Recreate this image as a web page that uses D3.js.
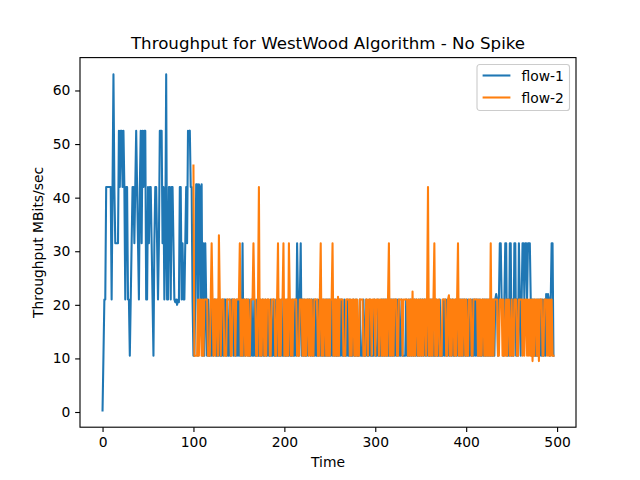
<!DOCTYPE html>
<html>
<head>
<meta charset="utf-8">
<script src="https://cdn.jsdelivr.net/npm/d3@7"></script>
<style>
  body { margin: 0; background: #fff; }
  text { font-family: "DejaVu Sans", sans-serif; }
</style>
</head>
<body>
<svg id="chart" width="640" height="480"></svg>
<script>
"use strict";

var title = "Throughput for WestWood Algorithm - No Spike";
var xLabel = "Time";
var yLabel = "Throughput MBits/sec";
var seriesNames = ["flow-1", "flow-2"];
var xTicks = [0, 100, 200, 300, 400, 500];
var yTicks = [0, 10, 20, 30, 40, 50, 60];
var timeStep = 1;
var flow1Start = 0;
var flow2Start = 100;

// flow-1, one value per second from t=0 (10 per row)
var flow1 = [
	0.3, 10.5, 21, 21, 42, 42, 42, 42, 42, 42,
	21, 42, 63, 42, 31.5, 31.5, 31.5, 31.5, 52.5, 42,
	52.5, 52.5, 42, 52.5, 42, 21, 42, 42, 21, 21,
	10.5, 21, 31.5, 42, 42, 31.5, 42, 52.5, 42, 31.5,
	21, 42, 52.5, 31.5, 52.5, 42, 52.5, 52.5, 21, 21,
	42, 31.5, 42, 42, 31.5, 21, 10.5, 31.5, 42, 42,
	31.5, 21, 31.5, 52.5, 52.5, 52.5, 31.5, 42, 21, 31.5,
	63, 21, 21, 42, 42, 21, 42, 42, 31.5, 21,
	20.5, 21, 20, 21, 20.5, 42, 42, 21, 31.5, 21,
	21, 31.5, 42, 31.5, 52.5, 52, 52.5, 42, 42, 21,
	10.5,
	10.5, 21, 42.5, 42.5, 10.5, 42.5, 42, 21, 42.5, 10.5,
	31.5, 10.5, 31.5, 21, 10.5, 21, 10.5, 10.5, 21, 10.5,
	21, 10.5, 21, 21, 10.5, 10.5, 21, 10.5, 21, 10.5,
	10.5, 21, 10.5, 21, 21, 10.5, 21, 10.5, 10.5, 21,
	10.5, 21, 21, 10.5, 21, 10.5, 10.5, 21, 10.5, 21,
	10.5, 21, 10.5, 31.5, 10.5, 21, 10.5, 21, 21, 10.5,
	21, 10.5, 10.5, 21, 10.5, 10.5, 21, 10.5, 10.5, 21,
	10.5, 10.5, 21, 10.5, 10.5, 21, 10.5, 10.5, 21, 10.5,
	10.5, 21, 10.5, 10.5, 21, 10.5, 10.5, 21, 10.5, 10.5,
	21, 10.5, 10.5, 21, 10.5, 10.5, 21, 10.5, 10.5, 21,
	10.5, 10.5, 21, 10.5, 10.5, 21, 10.5, 10.5, 21, 10.5,
	10.5, 21, 10.5, 31.5, 21, 10.5, 21, 31.5, 10.5, 21,
	10.5, 21, 10.5, 10.5, 21, 10.5, 21, 21, 10.5, 21,
	10.5, 21, 10.5, 21, 10.5, 10.5, 21, 10.5, 21, 10.5,
	21, 10.5, 21, 10.5, 10.5, 21, 10.5, 21, 10.5, 21,
	10.5, 21, 10.5, 21, 10.5, 21, 10.5, 10.5, 21, 10.5,
	21, 10.5, 21, 10.5, 10.5, 21, 10.5, 10.5, 21, 10.5,
	10.5, 21, 10.5, 10.5, 10.5, 21, 10.5, 10.5, 21, 10.5,
	10.5, 10.5, 21, 10.5, 10.5, 10.5, 21, 10.5, 10.5, 21,
	10.5, 10.5, 10.5, 21, 10.5, 10.5, 10.5, 10.5, 21, 10.5,
	10.5, 10.5, 21, 10.5, 10.5, 10.5, 21, 10.5, 21, 10.5,
	21, 10.5, 21, 10.5, 10.5, 21, 10.5, 21, 10.5, 21,
	10.5, 21, 10.5, 21, 10.5, 21, 10.5, 10.5, 21, 10.5,
	10.5, 10.5, 10.5, 21, 10.5, 10.5, 21, 10.5, 21, 10.5,
	21, 10.5, 21, 10.5, 21, 10.5, 10.5, 21, 10.5, 21,
	10.5, 21, 10.5, 21, 10.5, 21, 10.5, 21, 10.5, 10.5,
	21, 10.5, 21, 10.5, 10.5, 10.5, 21, 10.5, 10.5, 10.5,
	21, 10.5, 10.5, 10.5, 21, 10.5, 21, 10.5, 21, 10.5,
	21, 10.5, 21, 10.5, 21, 10.5, 10.5, 21, 10.5, 21,
	10.5, 21, 10.5, 21, 10.5, 21, 10.5, 21, 10.5, 21,
	10.5, 21, 10.5, 10.5, 21, 10.5, 21, 10.5, 21, 10.5,
	21, 10.5, 21, 10.5, 21, 10.5, 10.5, 21, 10.5, 21,
	10.5, 21, 10.5, 21, 10.5, 21, 10.5, 21, 10.5, 21,
	10.5, 21, 22, 21, 10.5, 21, 31.5, 31.5, 21, 21,
	10.5, 21, 31.5, 31.5, 10.5, 21, 10.5, 31.5, 31.5, 10.5,
	21, 10.5, 31.5, 31.5, 10.5, 21, 10.5, 31.5, 21, 10.5,
	21, 31.5, 31.5, 21, 31.5, 31.5, 21, 31.5, 31.5, 31.5,
	21, 10.5, 21, 10.5, 21, 10.5, 10.5, 21, 10.5, 21,
	10.5, 21, 10.5, 21, 10.5, 21, 10.5, 22, 21, 22,
	21, 10.5, 21, 31.5, 31.5, 10.5
];

// flow-2, one value per second from t=100
var flow2 = [
	46,
	10.5, 10.5, 10.5, 10.5, 21, 10.5, 21, 21, 10.5, 21,
	10.5, 21, 21, 21, 21, 10.5, 10.5, 10.5, 21, 31.5,
	21, 10.5, 21, 10.5, 21, 21, 10.5, 33, 21, 10.5,
	21, 21, 21, 10.5, 10.5, 10.5, 21, 21, 21, 21,
	10.5, 10.5, 21, 21, 21, 10.5, 21, 21, 21, 21,
	31.5, 10.5, 21, 10.5, 21, 21, 10.5, 21, 10.5, 21,
	10.5, 10.5, 21, 21, 21, 31.5, 21, 21, 10.5, 10.5,
	21, 42, 10.5, 21, 10.5, 21, 21, 10.5, 21, 10.5,
	21, 21, 21, 10.5, 10.5, 21, 21, 21, 21, 10.5,
	10.5, 21, 31.5, 10.5, 21, 10.5, 21, 21, 31.5, 10.5,
	21, 10.5, 21, 10.5, 31.5, 21, 10.5, 21, 10.5, 21,
	21, 21, 21, 10.5, 10.5, 10.5, 21, 21, 21, 10.5,
	21, 10.5, 21, 10.5, 21, 21, 10.5, 21, 10.5, 21,
	10.5, 10.5, 21, 21, 21, 21, 10.5, 10.5, 21, 31.5,
	10.5, 21, 10.5, 21, 21, 10.5, 21, 10.5, 21, 10.5,
	21, 21, 31.5, 10.5, 21, 10.5, 21, 10.5, 21.5, 10.5,
	21, 21, 21, 21, 10.5, 10.5, 10.5, 21, 21, 21,
	21, 10.5, 21, 10.5, 21, 21, 10.5, 21, 10.5, 21,
	10.5, 10.5, 21, 21, 21, 21, 10.5, 10.5, 10.5, 21,
	21, 10.5, 21, 21, 21, 10.5, 21, 21, 21, 10.5,
	21, 21, 21, 10.5, 21, 21, 10.5, 21, 10.5, 21,
	10.5, 21, 10.5, 21, 31.5, 10.5, 21, 10.5, 21, 10.5,
	21, 21, 21, 10.5, 10.5, 21, 21, 21, 21, 10.5,
	21, 21, 21, 21, 21, 10.5, 21, 10.5, 21, 10.5,
	22.5, 10.5, 21, 10.5, 21, 21, 10.5, 21, 10.5, 21,
	10.5, 21, 10.5, 21, 21, 10.5, 21, 42, 10.5, 21,
	10.5, 21, 10.5, 21, 31.5, 10.5, 21, 10.5, 21, 21,
	10.5, 10.5, 10.5, 21, 21, 21, 21, 10.5, 10.5, 21,
	21.8, 10.5, 21, 10.5, 21, 21, 10.5, 21, 10.5, 21,
	31.5, 10.5, 21, 10.5, 21, 10.5, 21, 21, 10.5, 21,
	10.5, 10.5, 21, 21, 21, 10.5, 10.5, 21, 21, 21,
	21, 21, 10.5, 21, 10.5, 21, 10.5, 21, 21, 10.5,
	21, 10.5, 21, 10.5, 21, 10.5, 31.5, 10.5, 21, 10.5,
	21, 21, 21, 21, 10.5, 10.5, 21, 21, 21, 10.5,
	21, 10.5, 10.5, 21, 10.5, 21, 21, 10.5, 10.5, 21,
	10.5, 10.5, 21, 21, 21, 10.5, 10.5, 21, 21, 21,
	21, 10.5, 21, 10.5, 21, 21, 10.5, 21, 10.5, 21,
	10.5, 21, 9.5, 21, 10.5, 21, 21, 10.5, 21, 9.5,
	21, 21, 21, 10.5, 10.5, 21, 21, 21, 10.5, 21,
	10.5, 21, 10.5, 21, 10.5, 10.5
];
var colors = ["#1f77b4", "#ff7f0e"];

// sizes in px for a 100 dpi figure (pt * 100/72)
var fontPx = 13.89, titlePx = 16.67, lineW = 2.08, spineW = 1.11, tickLen = 4.86;

var W = 640, H = 480;
var axLeft = 80, axRight = 576, axTop = 57.6, axBottom = 427.2;

var svg = d3.select("#chart");
svg.append("rect").attr("width", W).attr("height", H).attr("fill", "#fff");

function toPoints(vals, start) {
	return vals.map(function(v, i){ return [start + i*timeStep, v]; });
}
var series = [toPoints(flow1, flow1Start), toPoints(flow2, flow2Start)];

// matplotlib-ish 5% margins
var allX = series[0].concat(series[1]).map(function(d){ return d[0]; });
var allY = series[0].concat(series[1]).map(function(d){ return d[1]; });
var xmin = d3.min(allX), xmax = d3.max(allX);
var ymin = d3.min(allY), ymax = d3.max(allY);
var xpad = (xmax-xmin)*0.05, ypad = (ymax-ymin)*0.05;

var x = d3.scaleLinear().domain([xmin-xpad, xmax+xpad]).range([axLeft, axRight]);
var y = d3.scaleLinear().domain([ymin-ypad, ymax+ypad]).range([axBottom, axTop]);

svg.append("clipPath").attr("id", "plotclip")
	.append("rect").attr("x", axLeft).attr("y", axTop)
	.attr("width", axRight-axLeft).attr("height", axBottom-axTop);

var line = d3.line().x(function(d){ return x(d[0]); }).y(function(d){ return y(d[1]); });

series.forEach(function(s, k){
	svg.append("path")
		.datum(s)
		.attr("clip-path", "url(#plotclip)")
		.attr("fill", "none")
		.attr("stroke", colors[k])
		.attr("stroke-width", lineW)
		.attr("stroke-linejoin", "round")
		.attr("stroke-linecap", "square")
		.attr("d", line);
});

// axes
var xAxis = svg.append("g")
	.attr("transform", "translate(0," + axBottom + ")")
	.call(d3.axisBottom(x).tickValues(xTicks).tickSize(tickLen).tickPadding(tickLen));
var yAxis = svg.append("g")
	.attr("transform", "translate(" + axLeft + ",0)")
	.call(d3.axisLeft(y).tickValues(yTicks).tickSize(tickLen).tickPadding(tickLen));
[xAxis, yAxis].forEach(function(g){
	g.select(".domain").remove();
	g.selectAll(".tick line").attr("stroke", "#000").attr("stroke-width", spineW);
	g.selectAll(".tick text")
		.attr("fill", "#000")
		.style("font-family", "DejaVu Sans, sans-serif")
		.style("font-size", fontPx + "px");
});

svg.append("rect")
	.attr("x", axLeft).attr("y", axTop)
	.attr("width", axRight-axLeft).attr("height", axBottom-axTop)
	.attr("fill", "none").attr("stroke", "#000").attr("stroke-width", spineW);

svg.append("text")
	.attr("x", (axLeft+axRight)/2).attr("y", 49.3)
	.attr("text-anchor", "middle")
	.style("font-size", titlePx + "px")
	.text(title);
svg.append("text")
	.attr("x", (axLeft+axRight)/2).attr("y", 467)
	.attr("text-anchor", "middle")
	.style("font-size", fontPx + "px")
	.text(xLabel);
svg.append("text")
	.attr("transform", "translate(43," + ((axTop+axBottom)/2) + ") rotate(-90)")
	.attr("text-anchor", "middle")
	.style("font-size", fontPx + "px")
	.text(yLabel);

// legend
var lg = svg.append("g").attr("transform", "translate(477,64.5)");
lg.append("rect")
	.attr("width", 92.5).attr("height", 46)
	.attr("rx", 2.8).attr("ry", 2.8)
	.attr("fill", "#fff").attr("fill-opacity", 0.8)
	.attr("stroke", "#cccccc").attr("stroke-width", spineW);
seriesNames.forEach(function(name, k){
	var yy = 11 + k*22;
	lg.append("line")
		.attr("x1", 5.6).attr("x2", 33.4)
		.attr("y1", yy).attr("y2", yy)
		.attr("stroke", colors[k]).attr("stroke-width", lineW);
	lg.append("text")
		.attr("x", 44.5).attr("y", yy + 5)
		.style("font-size", fontPx + "px")
		.text(name);
});
</script>
</body>
</html>
